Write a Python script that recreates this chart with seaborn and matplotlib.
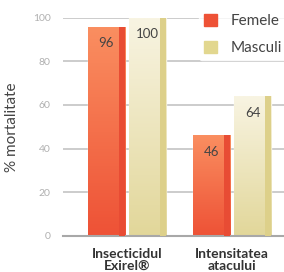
import numpy as np
import pandas as pd
import matplotlib.pyplot as plt
import seaborn as sns
from matplotlib.patches import Patch, Rectangle
from matplotlib.colors import LinearSegmentedColormap

# data
categories = ["Insecticidul\nExirel®", "Intensitatea\natacului"]
series = ["Femele", "Masculi"]
femele = [96, 46]
masculi = [100, 64]

df = pd.DataFrame({
    "categorie": categories * 2,
    "sex": [series[0]] * 2 + [series[1]] * 2,
    "valoare": femele + masculi,
})

# colours: top, bottom, side strip
grad = {
    "Femele": ("#fa8e60", "#ee5236", "#e84c34"),
    "Masculi": ("#f8f4e2", "#e2d79a", "#ddd08a"),
}

sns.set_style("white")
plt.rcParams["font.family"] = ["Lato", "DejaVu Sans"]

fig = plt.figure(figsize=(2.84, 2.72), dpi=100)
ax = fig.add_axes([0.222, 0.134, 0.80, 0.80])

palette = {s: grad[s][1] for s in series}
sns.barplot(data=df, x="categorie", y="valoare", hue="sex", hue_order=series,
            order=categories, palette=palette, width=0.78, gap=0.1,
            legend=False, ax=ax, zorder=2)

# gradient fill + darker right strip on each bar
for cont, name in zip(ax.containers, series):
    top, bottom, strip = grad[name]
    cmap = LinearSegmentedColormap.from_list(name, [bottom, top])
    for p in cont.patches:
        x0, y0 = p.get_x(), p.get_y()
        w, h = p.get_width(), p.get_height()
        img = ax.imshow(np.linspace(0, 1, 100).reshape(-1, 1), cmap=cmap,
                        origin="lower", aspect="auto",
                        extent=[x0, x0 + w, y0, y0 + h], zorder=2.5)
        img.set_clip_path(p)
        ax.add_patch(Rectangle((x0 + w * 0.84, y0), w * 0.16, h,
                               color=strip, lw=0, zorder=3))
    ax.bar_label(cont, padding=-16, fontsize=9.5, color="#444444", zorder=4)

ax.set_xlim(-0.605, 1.55)
ax.set_ylim(0, 100)

ax.set_yticks([0, 20, 40, 60, 80, 100])
ax.tick_params(axis="y", labelsize=7.5, colors="#b0b0b0", length=0, pad=9)
ax.tick_params(axis="x", length=0, pad=9)
for lbl in ax.get_xticklabels():
    lbl.set_fontweight("bold")
    lbl.set_fontsize(10)
    lbl.set_color("#333333")
    lbl.set_linespacing(1.0)

ax.yaxis.grid(True, color="#c4c4c4", lw=1.2, zorder=0)
ax.set_axisbelow(True)
for s in ["top", "right", "left"]:
    ax.spines[s].set_visible(False)
ax.spines["bottom"].set_color("#a8a8a8")
ax.spines["bottom"].set_linewidth(1.5)

ax.set_xlabel("")
ax.set_ylabel("% mortalitate", fontsize=11, color="#444444", labelpad=10)

handles = [Patch(color=grad[s][1]) for s in series]
handles[1] = Patch(color="#e2d78f")
leg = ax.legend(handles, series, loc="upper left", bbox_to_anchor=(0.566, 1.076),
                frameon=True, fontsize=11, handlelength=0.85, handleheight=0.85,
                labelspacing=0.85, handletextpad=0.9, borderpad=0.3)
leg.get_frame().set_facecolor("white")
leg.get_frame().set_edgecolor("white")
for t in leg.get_texts():
    t.set_color("#444444")

fig.savefig("out.png", dpi=100)
